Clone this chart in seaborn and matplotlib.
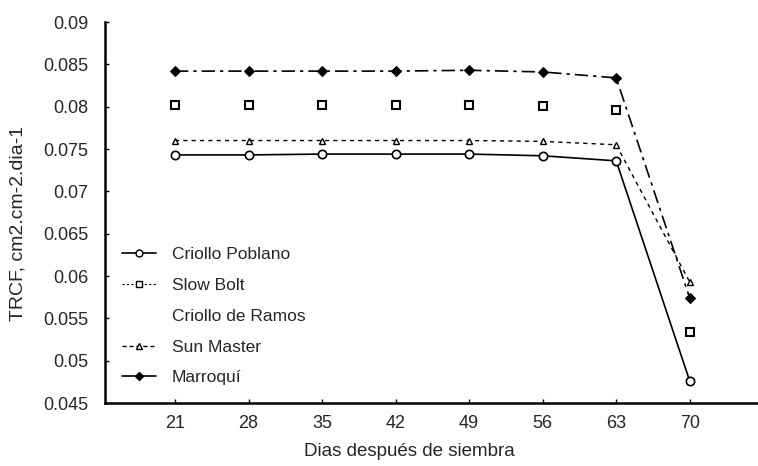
import matplotlib
matplotlib.use("Agg")
import matplotlib.pyplot as plt
import seaborn as sns
import pandas as pd
from matplotlib.lines import Line2D

sns.set_style("white")
plt.rcParams['font.family'] = ['Liberation Sans', 'DejaVu Sans']

days = [21, 28, 35, 42, 49, 56, 63, 70]
criollo_poblano = [0.0743, 0.0743, 0.0744, 0.0744, 0.0744, 0.0742, 0.0736, 0.0476]
slow_bolt = [0.0802, 0.0802, 0.0802, 0.0802, 0.0802, 0.0801, 0.0796, 0.0534]
sun_master = [0.0760, 0.0760, 0.0760, 0.0760, 0.0760, 0.0759, 0.0755, 0.0593]
marroqui = [0.0842, 0.0842, 0.0842, 0.0842, 0.0843, 0.0841, 0.0834, 0.0574]
y_ticks = [0.045, 0.05, 0.055, 0.06, 0.065, 0.07, 0.075, 0.08, 0.085, 0.09]
y_tick_labels = ["0.045", "0.05", "0.055", "0.06", "0.065", "0.07", "0.075", "0.08", "0.085", "0.09"]

fig = plt.figure(figsize=(7.58, 4.66), dpi=100)
ax = fig.add_axes([105/758, 63/466, (758-105)/758, 381/466])

sns.lineplot(x=days, y=criollo_poblano, ax=ax, color='black', lw=1.2, marker='o',
             markersize=6, markerfacecolor='white', markeredgecolor='black',
             markeredgewidth=1.2, label='Criollo Poblano')
sns.lineplot(x=days, y=slow_bolt, ax=ax, color='black', lw=0, linestyle='none', marker='s',
             markersize=6, markerfacecolor='white', markeredgecolor='black',
             markeredgewidth=1.5, label='Slow Bolt')
sns.lineplot(x=days, y=sun_master, ax=ax, color='black', lw=1.0, linestyle=(0, (3, 3)),
             marker='^', markersize=5, markerfacecolor='white', markeredgecolor='black',
             markeredgewidth=1.0, label='Sun Master')
sns.lineplot(x=days, y=marroqui, ax=ax, color='black', lw=1.2, linestyle=(0, (8, 3, 2, 3)),
             marker='D', markersize=5, markerfacecolor='black', markeredgecolor='black',
             label='Marroquí')

ax.set_xlim(14.34, 76.5)
ax.set_ylim(0.045, 0.09)
ax.set_xticks(days)
ax.set_xticklabels([str(d) for d in days], fontsize=13)
ax.set_yticks(y_ticks)
ax.set_yticklabels(y_tick_labels, fontsize=13)
ax.tick_params(axis='both', direction='in', length=3, width=1, color='black',
               bottom=True, left=True)
ax.tick_params(axis='y', pad=12)
ax.tick_params(axis='x', pad=9)
for s in ['top', 'right']:
    ax.spines[s].set_visible(False)
for s in ['left', 'bottom']:
    ax.spines[s].set_color('black')
    ax.spines[s].set_linewidth(1.8)

ax.set_xlabel('Dias después de siembra', fontsize=13.5)
ax.xaxis.set_label_coords(0.466, -0.105)
ax.set_ylabel('TRCF, cm2.cm-2.dia-1', fontsize=14)
ax.yaxis.set_label_coords(-0.12, 0.47)

h = [
    Line2D([], [], color='black', lw=1.2, marker='o', markersize=5, markerfacecolor='white'),
    Line2D([], [], color='black', lw=0.8, linestyle=(0, (2, 2)), marker='s', markersize=5, markerfacecolor='white'),
    Line2D([], [], color='none', lw=0),
    Line2D([], [], color='black', lw=1.0, linestyle=(0, (3, 2)), marker='^', markersize=4, markerfacecolor='white'),
    Line2D([], [], color='black', lw=1.2, marker='D', markersize=4, markerfacecolor='black'),
]
labels = ['Criollo Poblano', 'Slow Bolt', 'Criollo de Ramos', 'Sun Master', 'Marroquí']
ax.legend(h, labels, loc='upper left', bbox_to_anchor=(0.02, 0.418), frameon=False,
          fontsize=12.5, handlelength=2.0, handletextpad=0.9, labelspacing=0.9,
          borderaxespad=0.0, borderpad=0.2)

fig.savefig('out.png', dpi=100)
